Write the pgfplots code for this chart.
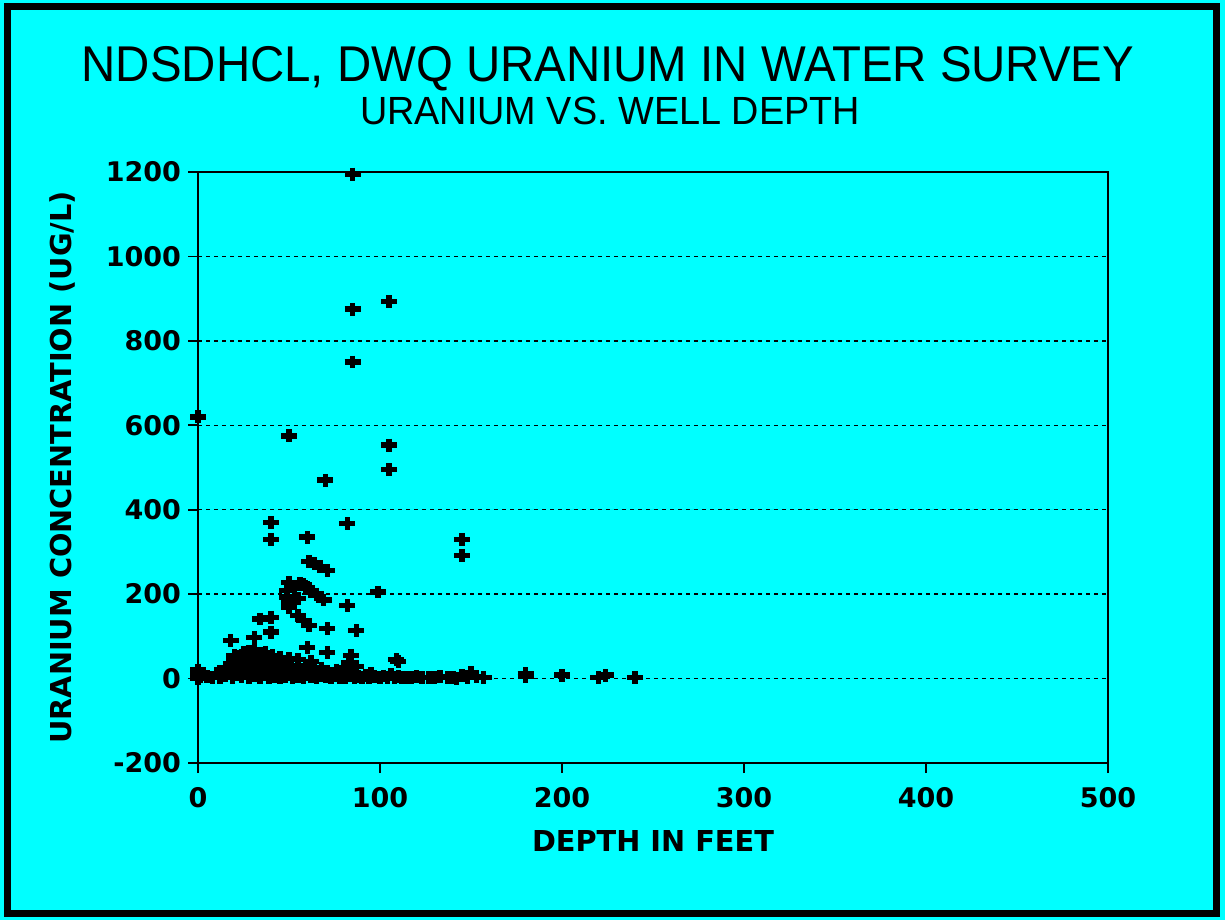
\documentclass[border=0pt]{standalone}
\usepackage{pgfplots}
\pgfplotsset{compat=1.18}
\usepackage{fontspec}
\setmainfont{Liberation Sans}
\newfontfamily\dejavu{DejaVu Sans}
\definecolor{bgcyan}{RGB}{0,255,255}
\pgfplotstableread{
x y
0 620
0 0
0 8
0 15
0 20
1 5
85 1195
85 875
105 893
85 750
105 553
105 495
50 575
70 470
40 370
40 330
60 335
82 367
145 330
145 292
61 278
64 272
67 266
71 256
50 228
56 226
60 216
49 209
62 205
65 200
49 193
69 186
53 214
58 222
50 180
55 190
99 205
82 173
50 169
55 149
40 145
34 141
58 137
61 126
71 118
87 114
40 110
31 98
18 90
60 74
71 62
50 47
84 55
109 45
110 40
83 38
87 28
62 40
55 45
45 50
10 12
5 5
8 2
12 3
15 8
17 20
19 2
21 10
23 30
24 5
26 15
27 45
28 2
29 25
30 58
31 8
32 35
33 50
34 3
35 20
36 60
37 10
38 40
39 2
40 28
41 55
42 5
43 15
44 35
45 2
46 12
47 25
48 4
50 10
51 30
52 2
54 15
55 5
57 20
58 3
60 10
61 30
62 4
64 18
65 2
67 8
68 25
70 4
72 12
73 2
75 6
76 20
78 3
80 10
81 2
82 25
84 8
85 15
86 3
88 5
90 2
92 8
94 3
95 12
97 4
100 2
102 6
104 3
106 10
108 2
110 5
112 3
115 2
15 25
18 35
20 45
22 20
24 55
25 62
26 35
28 65
30 40
31 68
32 20
34 60
35 45
37 62
38 25
39 50
42 40
44 20
45 42
47 30
20 55
23 48
117 2
120 4
123 2
127 3
130 2
133 4
137 2
140 3
142 1
145 8
148 3
150 14
153 5
157 2
180 5
180 12
200 8
220 3
224 8
240 3
}\datatable
\begin{document}
\begin{tikzpicture}
\useasboundingbox (0,0) rectangle (612.5pt,460pt);
\fill[bgcyan] (0,0) rectangle (612.5pt,460pt);
\draw[line width=3.5pt] (3.75pt,3.25pt) rectangle (608pt,456.75pt);
\node[anchor=base, font=\fontsize{23.7}{26}\selectfont, inner sep=0pt, yscale=1.06] at (304pt,419pt) {NDSDHCL, DWQ URANIUM IN WATER SURVEY};
\node[anchor=base, font=\fontsize{18.9}{22}\selectfont, inner sep=0pt, yscale=1.04] at (305pt,397.5pt) {URANIUM VS. WELL DEPTH};
\begin{axis}[
  at={(99pt,78.5pt)}, anchor=south west,
  width=455pt, height=295.5pt, scale only axis,
  xmin=0, xmax=500, ymin=-200, ymax=1200,
  xtick={0,100,...,500}, ytick={-200,0,...,1200},
  tick pos=left, tick align=outside, major tick length=5pt,
  tick style={black, line width=0.9pt},
  axis line style={line width=0.9pt},
  ymajorgrids,
  major grid style={black, line width=0.75pt, dash pattern=on 2pt off 2pt},
  ticklabel style={font=\dejavu\bfseries\fontsize{13.5}{15}\selectfont},
  xticklabel style={yshift=-3.5pt},
  /pgf/number format/assume math mode=true,
  /pgf/number format/1000 sep={},
  xlabel={DEPTH IN FEET},
  ylabel={URANIUM CONCENTRATION (UG/L)},
  every axis x label/.style={at={(axis description cs:0.5,-0.149)}, anchor=base, font=\dejavu\bfseries\fontsize{14.4}{16}\selectfont},
  every axis y label/.style={at={(axis description cs:-0.1484,0.5)}, anchor=center, rotate=90, font=\dejavu\bfseries\fontsize{14.4}{16}\selectfont},
  clip=false,
]
\addplot[only marks, mark=+, mark size=4pt, mark options={line width=2.7pt, yscale=0.8, black}] table[x=x,y=y] {\datatable};
\end{axis}
\end{tikzpicture}
\end{document}
